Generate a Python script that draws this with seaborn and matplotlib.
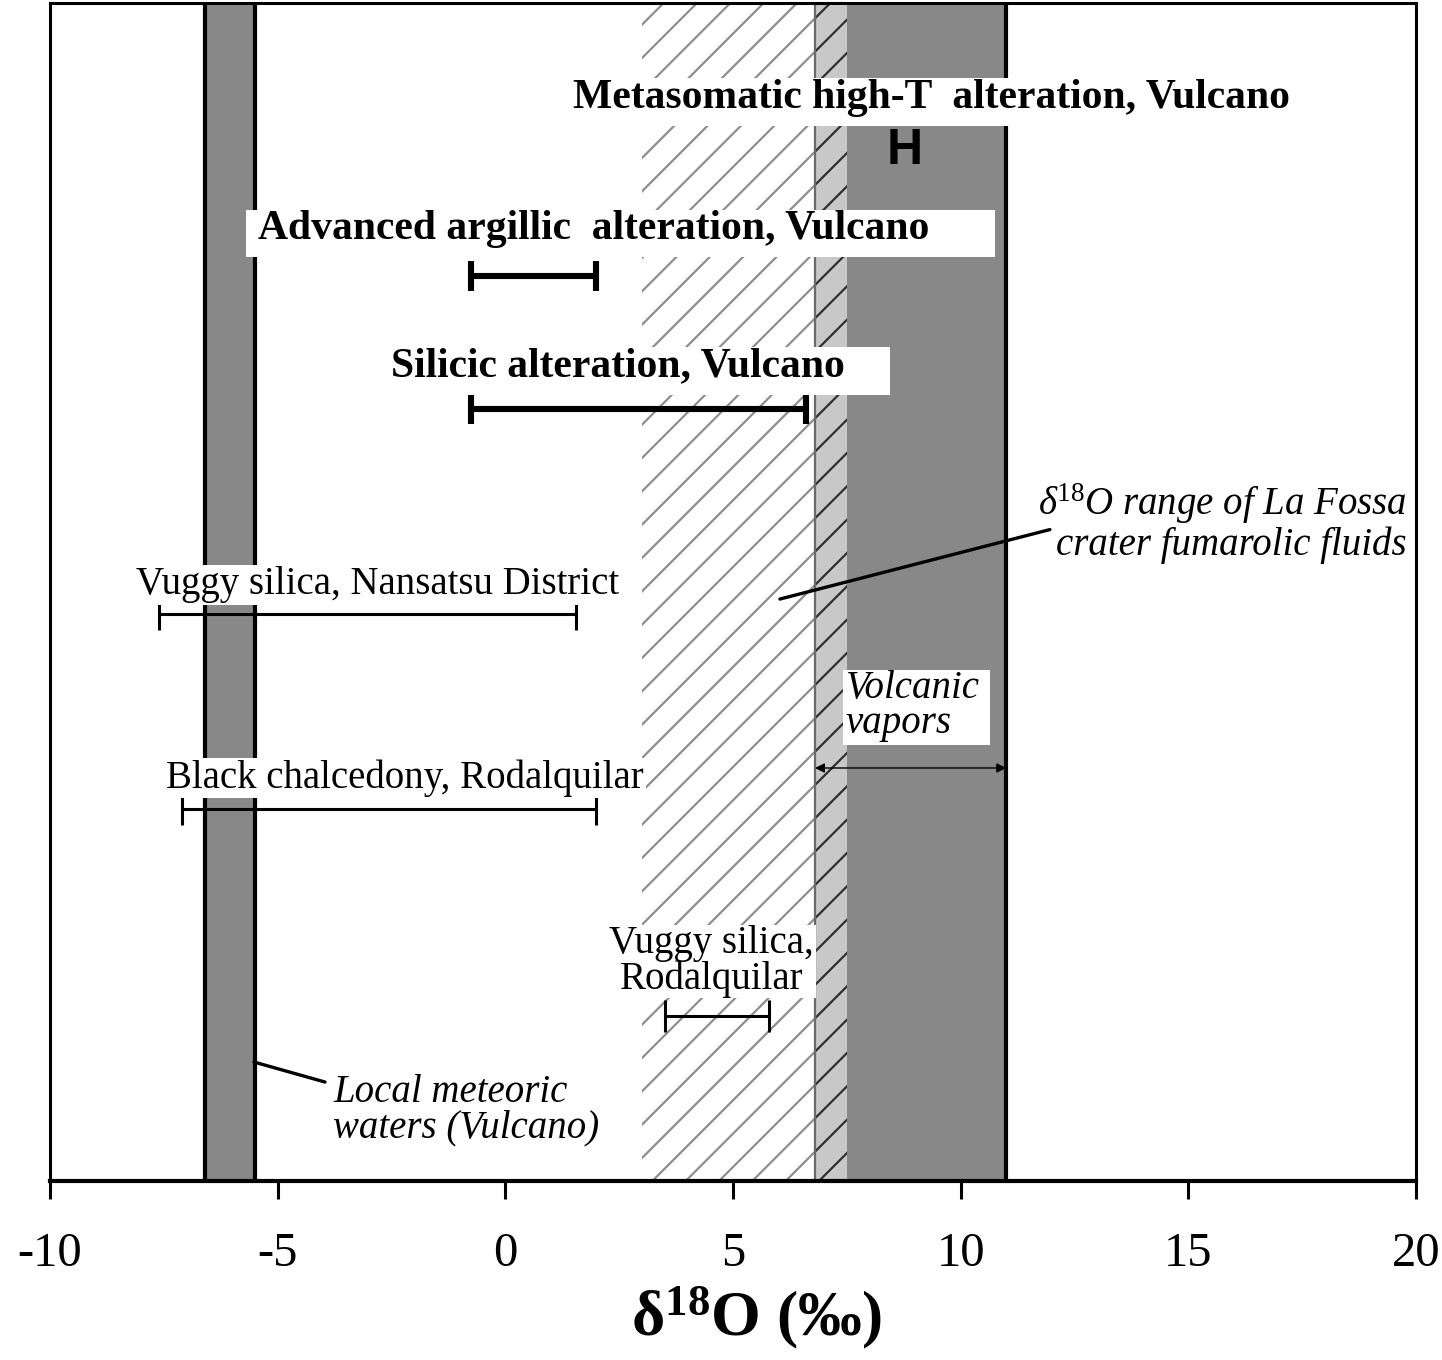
import matplotlib
matplotlib.use("Agg")
import matplotlib.pyplot as plt
from matplotlib.patches import Rectangle
import pandas as pd
import seaborn as sns

# delta-18O ranges (permil)
meteoric_range = [-6.6, -5.5]
fumarolic_range = [3.0, 6.8]
vapor_light_range = [6.8, 7.5]
vapor_dark_range = [7.5, 11.0]

range_names = [
    "Advanced argillic alteration, Vulcano",
    "Silicic alteration, Vulcano",
    "Vuggy silica, Nansatsu District",
    "Black chalcedony, Rodalquilar",
    "Vuggy silica, Rodalquilar",
]
range_low = [-0.75, -0.75, -7.6, -7.1, 3.5]
range_high = [2.0, 6.6, 1.55, 2.0, 5.8]
range_level = [76.8, 65.5, 48.1, 31.6, 14.0]
range_group = ["Vulcano", "Vulcano", "other", "other", "other"]

x_ticks = [-10, -5, 0, 5, 10, 15, 20]
x_ticklabels = ["-10", "-5", "0", "5", "10", "15", "20"]

sns.set_style("ticks")
plt.rcParams["font.family"] = ["Liberation Serif", "DejaVu Serif"]
plt.rcParams["mathtext.fontset"] = "custom"
plt.rcParams["mathtext.rm"] = "Liberation Serif"
plt.rcParams["mathtext.it"] = "Liberation Serif:italic"
plt.rcParams["mathtext.bf"] = "Liberation Serif:bold"
plt.rcParams["hatch.linewidth"] = 1.6
plt.rcParams["text.color"] = "black"
plt.rcParams["axes.labelcolor"] = "black"
plt.rcParams["xtick.color"] = "black"

fig = plt.figure(figsize=(14.42, 13.6), dpi=100)
ax = fig.add_axes([50 / 1442, 179 / 1360, 1366 / 1442, 1178 / 1360])
ax.set_xlim(-10, 20)
ax.set_ylim(0, 100)

# shaded reference bands
ax.axvspan(*meteoric_range, facecolor="#888888", edgecolor="none", zorder=1)
for xv in meteoric_range:
    ax.axvline(xv, color="black", lw=3, zorder=1.2)
ax.axvspan(*fumarolic_range, facecolor="none", edgecolor="#8e8e8e", hatch="/", lw=0, zorder=1)
ax.axvspan(*vapor_light_range, facecolor="#c8c8c8", edgecolor="#303030", hatch="/", lw=0, zorder=1)
ax.axvspan(*vapor_dark_range, facecolor="#888888", edgecolor="none", zorder=1)
ax.axvline(vapor_light_range[0], color="#6a6a6a", lw=1.6, zorder=1.2)
ax.axvline(vapor_dark_range[1], color="black", lw=3, zorder=1.2)

# range bars
seg = pd.DataFrame({
    "name": range_names * 2,
    "d18O": range_low + range_high,
    "level": range_level * 2,
    "group": range_group * 2,
})
sns.lineplot(data=seg, x="d18O", y="level", units="name", estimator=None,
             size="group", sizes={"Vulcano": 4.4, "other": 2.2},
             color="black", legend=False, ax=ax, zorder=3, sort=False)
for lo, hi, lv, grp in zip(range_low, range_high, range_level, range_group):
    bold = grp == "Vulcano"
    ax.plot([lo, hi], [lv, lv], ls="none", marker="|", color="black",
            ms=21 if bold else 23, mew=4.4 if bold else 2.2, zorder=3)

# white label backgrounds
def white_box(x0, x1, y0, y1):
    ax.add_patch(Rectangle((x0, y0), x1 - x0, y1 - y0, facecolor="white",
                           edgecolor="none", zorder=4))

white_box(1.31, 17.56, 89.6, 93.6)
white_box(-5.70, 10.76, 78.4, 82.4)
white_box(-2.64, 8.45, 66.7, 70.8)
white_box(7.42, 10.65, 37.0, 43.4)
white_box(2.30, 6.82, 15.5, 21.7)

bold_kw = dict(fontsize=30, fontweight="bold", va="center", zorder=5)
ax.text(1.49, 91.9, "Metasomatic high-T  alteration, Vulcano", ha="left", **bold_kw)
ax.text(-5.43, 80.8, "Advanced argillic  alteration, Vulcano", ha="left", **bold_kw)
ax.text(-2.51, 69.2, "Silicic alteration, Vulcano", ha="left", **bold_kw)
ax.text(8.78, 87.4, "H", ha="center", va="center", fontsize=36, fontweight="bold",
        family="Liberation Sans", zorder=5)

reg_kw = dict(fontsize=28, va="center", zorder=5)
tight = dict(facecolor="white", edgecolor="none", pad=1.0)
ax.text(-2.80, 50.6, "Vuggy silica, Nansatsu District", ha="center", bbox=tight, **reg_kw)
ax.text(-2.20, 34.2, "Black chalcedony, Rodalquilar", ha="center", bbox=tight, **reg_kw)
ax.text(4.52, 18.6, "Vuggy silica,\nRodalquilar", ha="center", linespacing=0.94, **reg_kw)

it_kw = dict(fontsize=28, style="italic", va="center", zorder=5)
ax.text(19.80, 55.9, "δ$^{\\mathit{18}}$O range of La Fossa\ncrater fumarolic fluids",
        ha="right", linespacing=1.03, **it_kw)
ax.text(7.48, 40.3, "Volcanic\nvapors", ha="left", linespacing=0.94, **it_kw)
ax.text(-3.78, 6.0, "Local meteoric\nwaters (Vulcano)", ha="left", linespacing=0.97, **it_kw)

# leader lines
ax.plot([11.96, 6.03], [55.3, 49.4], color="black", lw=2.4, zorder=3)
ax.plot([-5.52, -3.96], [10.1, 8.4], color="black", lw=2.4, zorder=3)

# volcanic vapor span arrow
ax.annotate("", xy=(vapor_light_range[0], 35.06), xytext=(vapor_dark_range[1], 35.06),
            arrowprops=dict(arrowstyle="<|-|>", color="black", lw=1.0,
                            mutation_scale=14, shrinkA=0, shrinkB=0), zorder=3)

ax.set_yticks([])
ax.set_ylabel("")
ax.set_xticks(x_ticks, labels=x_ticklabels)
ax.tick_params(axis="x", direction="out", length=13, width=2.2, labelsize=35,
               pad=24, color="black", labelcolor="black")
for side in ["top", "left", "right"]:
    ax.spines[side].set_linewidth(2.2)
    ax.spines[side].set_color("black")
ax.spines["bottom"].set_linewidth(3.0)
ax.spines["bottom"].set_color("black")
for sp in ax.spines.values():
    sp.set_zorder(6)

ax.set_xlabel("δ$^{\\mathbf{18}}$O (‰)", fontsize=46, fontweight="bold")
ax.xaxis.set_label_coords(0.517, -0.088)

fig.savefig("out.png", dpi=100, facecolor="white")
